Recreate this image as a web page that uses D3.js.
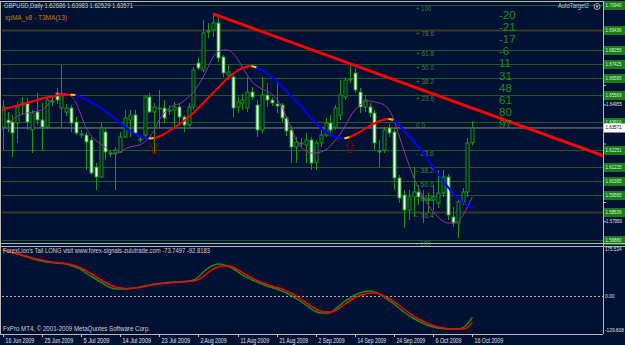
<!DOCTYPE html>
<html>
<head>
<meta charset="utf-8">
<script src="https://d3js.org/d3.v7.min.js"></script>
<style>
  body { margin: 0; background: #001133; }
  svg text { font-family: "Liberation Sans", Arial, sans-serif; }
</style>
</head>
<body>
<script>
// ---- data ----
const dateLabels = ["16 Jun 2009","25 Jun 2009","5 Jul 2009","14 Jul 2009","23 Jul 2009","2 Aug 2009",
  "11 Aug 2009","21 Aug 2009","2 Sep 2009","14 Sep 2009","24 Sep 2009","6 Oct 2009","16 Oct 2009"];

const opens = [1.6363,1.6405,1.6393,1.6387,1.6495,1.6507,1.6345,1.6453,1.6405,1.6363,1.6519,1.6567,1.6477,1.6453,1.6477,1.6393,
  1.6321,1.6315,1.6285,1.6123,1.6063,1.6333,1.6207,1.6207,1.6213,1.6303,1.6405,1.6435,1.6291,1.6315,1.6543,1.6453,
  1.6477,1.6477,1.6459,1.6465,1.6483,1.6423,1.6375,1.6483,1.6747,1.6705,1.6933,1.6945,1.6987,1.6783,1.6675,1.6663,
  1.6483,1.6507,1.6477,1.6573,1.6495,1.6345,1.6555,1.6525,1.6501,1.6495,1.6417,1.6345,1.6243,1.6267,1.6255,1.6285,
  1.6153,1.6267,1.6315,1.6387,1.6363,1.6435,1.6543,1.6645,1.6687,1.6573,1.6483,1.6483,1.6447,1.6219,1.6225,1.6357,
  1.6333,1.6057,1.5955,1.5865,1.5943,1.5973,1.5937,1.5931,1.5925,1.5907,1.5967,1.6063,1.5823,1.5787,1.5913,1.5973,1.62686];
const highs = [1.6525,1.6453,1.6435,1.6513,1.6543,1.6537,1.6465,1.6567,1.6507,1.6543,1.6543,1.6597,1.6735,1.6501,1.6495,1.6423,
  1.6345,1.6333,1.6303,1.6147,1.6387,1.6357,1.6225,1.6243,1.6333,1.6465,1.6465,1.6465,1.6309,1.6555,1.6567,1.6507,
  1.6585,1.6525,1.6495,1.6513,1.6501,1.6435,1.6507,1.6723,1.6777,1.7005,1.6987,1.7047,1.7023,1.6795,1.6735,1.6681,
  1.6543,1.6561,1.6663,1.6603,1.6525,1.6663,1.6627,1.6543,1.6627,1.6507,1.6429,1.6369,1.6303,1.6297,1.6327,1.6303,
  1.6285,1.6345,1.6417,1.6435,1.6495,1.6645,1.6663,1.6735,1.6717,1.6597,1.6555,1.6507,1.6465,1.6285,1.6363,1.6381,
  1.6357,1.6075,1.5985,1.5985,1.6123,1.6015,1.5985,1.5967,1.6015,1.6105,1.6105,1.6081,1.5883,1.5937,1.5997,1.6297,1.63983];
const lows = [1.6225,1.6333,1.6183,1.6267,1.6435,1.6345,1.6207,1.6375,1.6225,1.6351,1.6489,1.6501,1.6363,1.6429,1.6333,1.6315,
  1.6297,1.6105,1.6075,1.5985,1.6057,1.6165,1.6183,1.5985,1.6207,1.6297,1.6303,1.6315,1.6267,1.6303,1.6447,1.6207,
  1.6357,1.6387,1.6435,1.6363,1.6387,1.6333,1.6363,1.6465,1.6705,1.6693,1.6897,1.6903,1.6753,1.6663,1.6645,1.6423,
  1.6447,1.6465,1.6453,1.6525,1.6303,1.6327,1.6483,1.6489,1.6447,1.6393,1.6309,1.6147,1.6147,1.6237,1.6147,1.6105,
  1.6105,1.6243,1.6303,1.6327,1.6345,1.6405,1.6525,1.6627,1.6567,1.6447,1.6453,1.6423,1.6225,1.6123,1.6207,1.6303,
  1.5985,1.5907,1.5757,1.5805,1.5823,1.5895,1.5787,1.5847,1.5865,1.5877,1.5943,1.5805,1.5763,1.5697,1.5895,1.5943,1.62529];
const closes = [1.6483,1.6387,1.6327,1.6483,1.6507,1.6393,1.6447,1.6405,1.6363,1.6525,1.6513,1.6525,1.6549,1.6477,1.6387,1.6327,
  1.6315,1.6273,1.6087,1.6063,1.6357,1.6213,1.6201,1.6225,1.6303,1.6417,1.6435,1.6327,1.6285,1.6543,1.6453,1.6483,
  1.6474,1.6417,1.6465,1.6483,1.6423,1.6375,1.6483,1.6705,1.6717,1.6927,1.6939,1.6987,1.6777,1.6687,1.6693,1.6477,
  1.6513,1.6525,1.6573,1.6543,1.6345,1.6555,1.6525,1.6507,1.6489,1.6417,1.6339,1.6243,1.6273,1.6261,1.6285,1.6147,
  1.6267,1.6315,1.6387,1.6345,1.6477,1.6555,1.6645,1.6651,1.6585,1.6483,1.6525,1.6447,1.6267,1.6213,1.6345,1.6327,
  1.6057,1.5937,1.5865,1.5943,1.5973,1.5943,1.5931,1.5925,1.5943,1.5967,1.6063,1.5835,1.5787,1.5913,1.5973,1.6267,1.63571];

const t3ma = [1.6465,1.6477,1.6483,1.6492,1.6498,1.6507,1.6516,1.6525,1.6534,1.6540,1.6546,1.6552,1.6555,1.6556,1.6557,1.6555,
  1.6543,1.6528,1.6513,1.6498,1.6480,1.6459,1.6435,1.6411,1.6387,1.6363,1.6339,1.6321,1.6306,1.6297,1.6294,1.6297,
  1.6306,1.6321,1.6339,1.6357,1.6378,1.6399,1.6423,1.6447,1.6477,1.6507,1.6537,1.6567,1.6597,1.6627,1.6657,1.6681,
  1.6702,1.6717,1.6726,1.6727,1.6720,1.6705,1.6687,1.6663,1.6639,1.6609,1.6579,1.6549,1.6519,1.6489,1.6453,1.6417,
  1.6387,1.6357,1.6333,1.6315,1.6303,1.6297,1.6296,1.6303,1.6318,1.6333,1.6351,1.6369,1.6384,1.6399,1.6408,1.6411,
  1.6405,1.6375,1.6345,1.6309,1.6279,1.6243,1.6207,1.6165,1.6123,1.6081,1.6039,1.6003,1.5967,1.5937,1.5913,1.5892,1.5877];

const xpma = [1.6345,1.6375,1.6405,1.6429,1.6441,1.6447,1.6453,1.6459,1.6465,1.6489,1.6525,1.6555,1.6567,1.6561,1.6549,1.6507,
  1.6435,1.6363,1.6315,1.6285,1.6261,1.6243,1.6213,1.6201,1.6213,1.6231,1.6243,1.6249,1.6255,1.6273,1.6303,1.6345,
  1.6405,1.6447,1.6477,1.6495,1.6501,1.6519,1.6543,1.6573,1.6615,1.6663,1.6723,1.6783,1.6813,1.6825,1.6825,1.6807,
  1.6771,1.6723,1.6675,1.6633,1.6609,1.6591,1.6579,1.6561,1.6531,1.6489,1.6423,1.6357,1.6285,1.6243,1.6219,1.6207,
  1.6207,1.6213,1.6225,1.6249,1.6285,1.6321,1.6369,1.6423,1.6465,1.6495,1.6513,1.6519,1.6513,1.6507,1.6495,1.6465,
  1.6405,1.6315,1.6225,1.6141,1.6063,1.5997,1.5943,1.5895,1.5853,1.5823,1.5799,1.5787,1.5787,1.5793,1.5829,1.5883,1.5943];

const tailGreen = [164.9,159.5,154.2,150.7,145.3,140,134.7,129.4,125.8,122.3,120.5,118.7,117,115.2,109.9,102.8,
  95.7,83.3,72.6,62,51.3,40.7,31.8,26.5,26.5,26.5,28.3,30,33.6,37.1,40.7,44.2,
  46,47.8,49.5,51.3,51.3,53.1,54.9,58.4,69.1,86.8,101,109.9,115.2,113.4,108.1,99.2,
  88.6,76.2,67.3,58.4,51.3,44.2,37.1,31.8,26.5,19.4,12.3,3.4,-7.2,-17.9,-30.3,-42.7,
  -53.3,-58.7,-58.7,-56.9,-44.5,-30.3,-16.1,-5.5,5.2,12.3,17.6,19.4,15.8,8.7,-1.9,-14.3,
  -26.7,-40.9,-55.1,-67.5,-78.2,-87.1,-95.9,-103,-108.3,-111.9,-113.7,-115.4,-115.4,-115.4,-111.9,-97.7,-73.7497];
const tailRed = [166.6,161.3,156,152.4,147.1,141.8,136.5,132.9,129.4,125.8,122.3,120.5,118.7,117,113.4,108.1,
  101,92.1,81.5,70.8,60.2,49.5,40.7,33.6,30,28.3,28.3,30,31.8,35.4,38.9,42.4,
  44.2,46,47.8,49.5,51.3,51.3,53.1,54.9,60.2,70.8,85,97.4,104.5,108.1,108.1,104.5,
  95.7,85,74.4,65.5,56.6,49.5,42.4,37.1,31.8,26.5,19.4,12.3,1.6,-9,-21.4,-33.8,
  -44.5,-51.6,-55.1,-55.1,-49.8,-39.2,-26.7,-14.3,-3.7,3.4,8.7,12.3,12.3,8.7,1.6,-7.2,
  -17.9,-30.3,-44.5,-56.9,-69.3,-80,-88.8,-95.9,-103,-108.3,-111.9,-113.7,-115.4,-115.4,-115.4,-110.1,-92.8183];

const fibHigh = 1.7094, fibLow = 1.6391;
const fibUp = [100, 78.6, 61.8, 50.0, 38.2, 23.6, 0.0];
const fibDown = [23.6, 38.2, 50.0, 61.8, 76.4, 100];
const priceTicks = ["1.69630","1.68455","1.67280","1.66130","1.64955","1.63780","1.62610","1.61430","1.60280","1.59100","1.57950","1.56800"];
const targets = ["-20","-21","-17","-6","11","31","48","61","80","97"];
const trendStart = [43, 1.7042], trendEnd = [122.8, 1.6190];
const buyBars = [31, 71], sellBars = [15, 52];
const lastPrice = 1.63571;
const tailTicks = [175.524, 0, -129.608];

// ---- layout ----
const W = 625, H = 345;
const svg = d3.select("body").append("svg").attr("width", W).attr("height", H);
svg.append("rect").attr("width", W).attr("height", H).attr("fill", "#001133");

const x = d3.scaleLinear().domain([0, 96]).range([2.7, 472.3]);
const y = d3.scaleLinear().domain([1.7125, 1.5685]).range([0, 240]);
const yi = d3.scaleLinear().domain([175.524, -129.608]).range([247, 333]);

const green = "#129a12", fibGreen = "#1d5a1d";

function txt(g, px, py, s, size, color, len, anchor) {
  const t = g.append("text").attr("x", px).attr("y", py).text(s)
    .attr("font-size", size).attr("fill", color).attr("dominant-baseline", "middle");
  if (anchor) t.attr("text-anchor", anchor);
  if (len) t.attr("textLength", len).attr("lengthAdjust", "spacingAndGlyphs");
  return t;
}

const main = svg.append("g");
main.append("clipPath").attr("id", "mainClip").append("rect")
  .attr("x", 2).attr("y", 3).attr("width", 601).attr("height", 240);

// fib levels
const fibRange = fibHigh - fibLow;
const fibs = fibUp.map(l => ({ p: fibLow + fibRange * l / 100, lab: l === 0 ? "0.0" : "+ " + (l === 100 ? "100" : l.toFixed(1)) }))
  .concat(fibDown.map(l => ({ p: fibLow - fibRange * l / 100, lab: "- " + (l === 100 ? "100" : l.toFixed(1)) })));
const boxYs = fibs.map(f => y(f.p)).concat([y(lastPrice)]);

// regular price ticks (hidden where a level box sits on them)
priceTicks.forEach(s => {
  const py = y(+s);
  main.append("line").attr("x1", 603).attr("x2", 606).attr("y1", py).attr("y2", py).attr("stroke", "#c0c0c0");
  if (boxYs.every(b => Math.abs(b - py) > 8)) txt(main, 606, py, s, 5.5, "#e0e0e0", 16);
});

fibs.forEach(f => {
  const py = Math.round(y(f.p)) + 0.5;
  const dim = f.lab === "+ 78.6" || f.lab === "- 76.4";
  main.append("line").attr("x1", 2).attr("x2", 603).attr("y1", py).attr("y2", py)
    .attr("stroke", dim ? "#3a3a22" : fibGreen).attr("stroke-width", dim ? 2 : 1);
  txt(main, 416, py + 4, f.lab, 6.5, "#3f7f3f", f.lab.length * 3);
  main.append("rect").attr("x", 604).attr("y", py - 4.5).attr("width", 21).attr("height", 9).attr("fill", "#1b7a1b");
  txt(main, 605.5, py, f.p.toFixed(5), 5.5, "#d8ffd8", 16);
});

// bid line
main.append("line").attr("x1", 2).attr("x2", 603).attr("y1", y(lastPrice)).attr("y2", y(lastPrice)).attr("stroke", "#8a8a8a");
main.append("rect").attr("x", 604).attr("y", y(lastPrice) - 4.5).attr("width", 21).attr("height", 9).attr("fill", "#ffffff");
txt(main, 605.5, y(lastPrice), lastPrice.toFixed(5), 5.5, "#000000", 16);

// candles
const cg = main.append("g").attr("clip-path", "url(#mainClip)");
closes.forEach((c, i) => {
  const o = opens[i];
  const cx = Math.round(x(i)) + 0.5;
  cg.append("line").attr("x1", cx).attr("x2", cx).attr("y1", y(highs[i])).attr("y2", y(lows[i])).attr("stroke", green);
  const top = y(Math.max(o, c)), bot = y(Math.min(o, c));
  cg.append("rect").attr("x", cx - 1.5).attr("y", top).attr("width", 3).attr("height", Math.max(1, bot - top))
    .attr("fill", c >= o ? "#001133" : "#f4fff4").attr("stroke", green);
});

// xpMA
cg.append("path").datum(xpma).attr("fill", "none").attr("stroke", "#a030a0").attr("stroke-width", 1)
  .attr("d", d3.line().x((d, i) => x(i)).y(d => y(d)).curve(d3.curveMonotoneX));

// T3MA coloured by slope
for (let i = 0; i < t3ma.length - 1; i++) {
  const up = t3ma[i + 1] >= t3ma[i];
  const prevUp = i > 0 ? t3ma[i] >= t3ma[i - 1] : up;
  cg.append("line").attr("x1", x(i)).attr("x2", x(i + 1)).attr("y1", y(t3ma[i])).attr("y2", y(t3ma[i + 1]))
    .attr("stroke", up !== prevUp ? "#ffd000" : (up ? "#ff0000" : "#0000ff")).attr("stroke-width", 2)
    .attr("stroke-linecap", "round");
}

// arrows
buyBars.forEach(b => {
  const ax = x(b), ay = y(t3ma[b]) + 3;
  cg.append("path").attr("d", `M${ax},${ay} l4.5,5.5 h-2.5 v7 h-4 v-7 h-2.5 z`)
    .attr("fill", "none").attr("stroke", "#8b0000").attr("stroke-width", 1);
});
sellBars.forEach(b => {
  const ax = x(b), ay = y(t3ma[b]) + 15;
  cg.append("path").attr("d", `M${ax},${ay} l4.5,-5.5 h-2.5 v-7 h-4 v7 h-2.5 z`)
    .attr("fill", "none").attr("stroke", "#10106a").attr("stroke-width", 1);
});

// trend line
cg.append("line").attr("x1", x(trendStart[0])).attr("y1", y(trendStart[1]))
  .attr("x2", x(trendEnd[0])).attr("y2", y(trendEnd[1])).attr("stroke", "#ff0000").attr("stroke-width", 3);

// target numbers
targets.forEach((s, i) => txt(main, 499, 16 + i * 12.1, s, 11.5, "#1e8c1e"));

// captions
txt(svg, 4, 6.5, "GBPUSD,Daily  1.62686 1.63983 1.62529 1.63571", 7, "#d0d0d0", 129);
txt(svg, 5, 18, "xpMA_v8 - T3MA(13)", 7, "#d07a10", 62);
txt(svg, 558, 6.5, "AutoTarget2", 6.5, "#c8c8c8", 31);
svg.append("circle").attr("cx", 597).attr("cy", 6.5).attr("r", 3).attr("fill", "none").attr("stroke", "#b0b0b0");
svg.append("circle").attr("cx", 597).attr("cy", 6.5).attr("r", 1.2).attr("fill", "#b0b0b0");

// frames
svg.append("line").attr("x1", 1).attr("x2", 603).attr("y1", 1.5).attr("y2", 1.5).attr("stroke", "#b8b8b8");
svg.append("line").attr("x1", 0.5).attr("x2", 0.5).attr("y1", 1).attr("y2", 334).attr("stroke", "#b8b8b8");
svg.append("line").attr("x1", 603.5).attr("x2", 603.5).attr("y1", 1).attr("y2", 334).attr("stroke", "#b8b8b8");
svg.append("line").attr("x1", 0).attr("x2", 625).attr("y1", 243.5).attr("y2", 243.5).attr("stroke", "#b8b8b8");
svg.append("line").attr("x1", 0).attr("x2", 625).attr("y1", 246.5).attr("y2", 246.5).attr("stroke", "#b8b8b8");
svg.append("line").attr("x1", 0).attr("x2", 603).attr("y1", 334.5).attr("y2", 334.5).attr("stroke", "#b8b8b8");

// indicator pane
const ig = svg.append("g");
ig.append("line").attr("x1", 2).attr("x2", 603).attr("y1", yi(0)).attr("y2", yi(0))
  .attr("stroke", "#c8b080").attr("stroke-dasharray", "2,2");
const iline = d3.line().x((d, i) => x(i)).y(d => yi(d)).curve(d3.curveMonotoneX);
ig.append("path").datum(tailGreen).attr("fill", "none").attr("stroke", "#129012").attr("stroke-width", 1.5).attr("d", iline);
ig.append("path").datum(tailRed).attr("fill", "none").attr("stroke", "#ff0000").attr("stroke-width", 1.5).attr("d", iline);
tailTicks.forEach(v => {
  const s = v === 0 ? "0.00" : v.toFixed(3);
  const py = v === 175.524 ? 250 : (v < 0 ? 331 : yi(v));
  txt(ig, 605, py, s, 5, "#e0e0e0", s.length * 2.35);
});
txt(ig, 3, 251.5, "ForexLion's Tail LONG visit www.forex-signals-zulutrade.com  -73.7497 -92.8183", 6.5, "#d0d0d0", 207);
txt(ig, 3, 329, "FxPro MT4, \u00a9 2001-2009 MetaQuotes Software Corp.", 6.5, "#d0d0d0", 147);

// date axis
dateLabels.forEach((s, j) => {
  const px = Math.round(x(j * 8)) + 0.5;
  svg.append("line").attr("x1", px).attr("x2", px).attr("y1", 334).attr("y2", 337).attr("stroke", "#c0c0c0");
  txt(svg, px + 2, 341, s, 7, "#e0e0e0", s.length * 2.6);
});
</script>
</body>
</html>
